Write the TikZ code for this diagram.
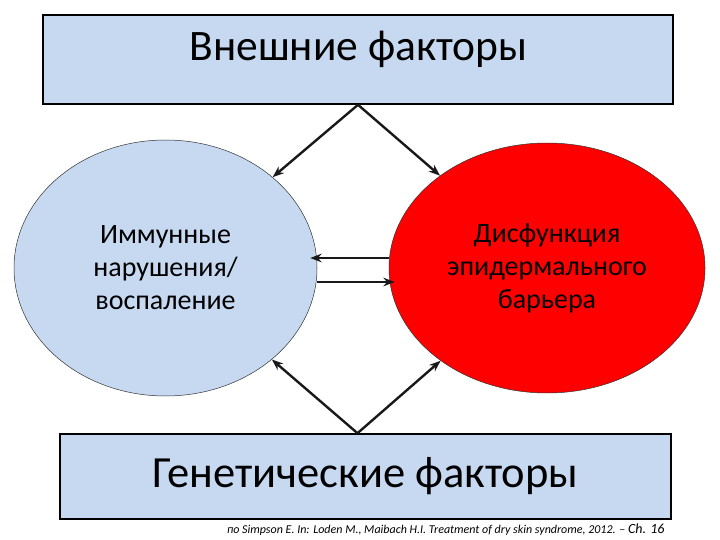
\documentclass[tikz,border=0pt]{standalone}
\usepackage{fontspec}
\setmainfont{Carlito}
\usepackage{xcolor}
\usepackage{tikz}
\usetikzlibrary{arrows.meta,shapes.geometric}

\definecolor{paleblue}{HTML}{C6D9F1}

\begin{document}
\begin{tikzpicture}[x=1pt,y=-1pt,>={Stealth[length=4mm,width=3mm]},
  factorbox/.style={rectangle,draw=black,line width=1.6pt,fill=paleblue,inner sep=0pt},
  cause/.style={ellipse,draw=black!80,line width=0.5pt,inner sep=0pt,align=center,font=\fontsize{28}{33}\selectfont},
  link/.style={->,line width=2.4pt,draw=black!90}]
  \useasboundingbox (0,0) rectangle (720,540);
  \node[factorbox,minimum width=630pt,minimum height=89pt] (ext) at (358,59.5) {};
  \node[anchor=base,font=\fontsize{43.5}{43.5}\selectfont] (exttxt) at (358.5,61) {Внешние факторы};
  \node[factorbox,minimum width=611pt,minimum height=85pt,font=\fontsize{44.5}{44.5}\selectfont] (gen) at (365.5,476.5) {Генетические факторы};
  \node[cause,fill=paleblue,minimum width=303pt,minimum height=256pt] (imm) at (165.5,268) {Иммунные\\нарушения/\\воспаление};
  \node[cause,fill=red,minimum width=316pt,minimum height=250pt] (bar) at (547,268) {Дисфункция\\эпидермального\\барьера};
  \draw[link] (ext.south) -- (imm);
  \draw[link] (ext.south) -- (bar);
  \draw[link] ([xshift=-8pt]gen.north) -- (imm);
  \draw[link] ([xshift=-8pt]gen.north) -- (bar);
  \draw[link] ([yshift=10pt]bar.west) -- ([xshift=-7pt,yshift=10pt]imm.east);
  \draw[link] ([yshift=-14pt]imm.east) -- ([xshift=6pt,yshift=-14pt]bar.west);
  \node[anchor=base east,font=\fontsize{12}{12}\selectfont\itshape] (src) at (668,533) {по Simpson E. In: Loden M., Maibach H.I. Treatment of dry skin syndrome, 2012. -- {\fontsize{14}{14}\selectfont Ch. 16}};
\end{tikzpicture}
\end{document}
